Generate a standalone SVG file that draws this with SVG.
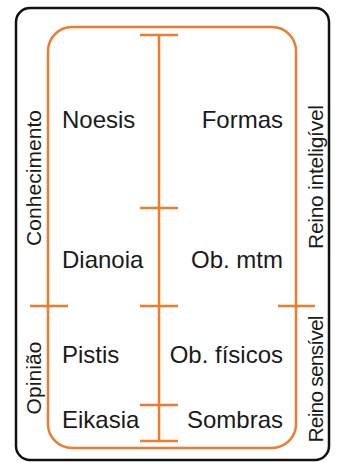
<svg xmlns="http://www.w3.org/2000/svg" width="337" height="463" viewBox="0 0 337 463">
  <style>
    .frame { fill: none; stroke: #111; stroke-width: 2.5; }
    .band { fill: none; stroke: #ef7b2d; stroke-width: 2.5; }
    .axis { fill: none; stroke: #ef7b2d; stroke-width: 2.5; }
    .cell { font-family: "Liberation Sans", Arial, sans-serif; font-size: 24px; fill: #1a1a1a; }
    .side { font-family: "Liberation Sans", Arial, sans-serif; font-size: 21px; fill: #1a1a1a; }
    .end { text-anchor: end; }
    .mid { text-anchor: middle; }
  </style>

  <!-- outer black card -->
  <rect id="card" class="frame" x="16" y="8" width="313" height="452" rx="14"/>

  <!-- orange rounded band around the grid -->
  <rect id="band" class="band" x="48" y="27" width="248" height="421" rx="24"/>

  <!-- central divided line with ticks, plus the side dividers -->
  <g id="connectors" class="axis">
    <line x1="159" y1="35" x2="159" y2="441"/>
    <line x1="140" y1="35" x2="178" y2="35"/>
    <line x1="140" y1="208" x2="178" y2="208"/>
    <line x1="140" y1="306" x2="178" y2="306"/>
    <line x1="140" y1="405" x2="178" y2="405"/>
    <line x1="140" y1="441" x2="178" y2="441"/>
    <line x1="30" y1="306" x2="68" y2="306"/>
    <line x1="278" y1="306" x2="315" y2="306"/>
  </g>

  <!-- left column: kinds of knowledge -->
  <g id="noesis"><text class="cell" x="62" y="128">Noesis</text></g>
  <g id="dianoia"><text class="cell" x="62" y="268">Dianoia</text></g>
  <g id="pistis"><text class="cell" x="62" y="363">Pistis</text></g>
  <g id="eikasia"><text class="cell" x="62" y="428">Eikasia</text></g>

  <!-- right column: their objects -->
  <g id="formas"><text class="cell end" x="283" y="128">Formas</text></g>
  <g id="ob-mtm"><text class="cell end" x="283" y="268">Ob. mtm</text></g>
  <g id="ob-fisicos"><text class="cell end" x="283" y="363">Ob. físicos</text></g>
  <g id="sombras"><text class="cell end" x="283" y="428">Sombras</text></g>

  <!-- vertical side captions -->
  <g id="conhecimento"><text class="side mid" transform="translate(40.5 178) rotate(-90)" textLength="136" lengthAdjust="spacing">Conhecimento</text></g>
  <g id="opiniao"><text class="side mid" transform="translate(40.5 378) rotate(-90)" textLength="73" lengthAdjust="spacing">Opinião</text></g>
  <g id="reino-inteligivel"><text class="side mid" transform="translate(322.5 177) rotate(-90)" textLength="144" lengthAdjust="spacing">Reino inteligível</text></g>
  <g id="reino-sensivel"><text class="side mid" transform="translate(322.5 379) rotate(-90)" textLength="127" lengthAdjust="spacing">Reino sensível</text></g>
</svg>
